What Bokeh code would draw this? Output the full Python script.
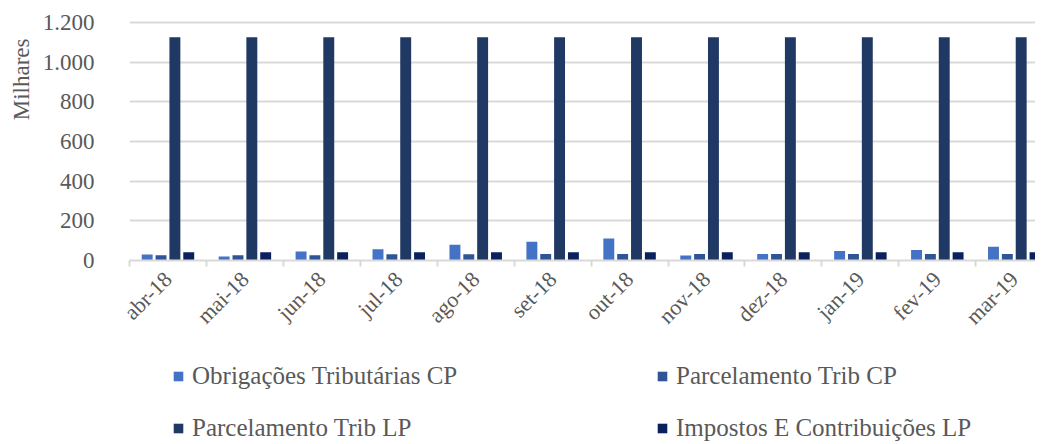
import numpy as np
from bokeh.plotting import figure
from bokeh.layouts import column
from bokeh.models import Range1d, FixedTicker, Legend, LegendItem, Title
from bokeh.embed import file_html
from bokeh.resources import INLINE

months = ["abr-18", "mai-18", "jun-18", "jul-18", "ago-18", "set-18",
          "out-18", "nov-18", "dez-18", "jan-19", "fev-19", "mar-19"]
obrigacoes_cp = [30, 20, 45, 57, 79, 95, 111, 25, 33, 48, 53, 69]
parcelamento_cp = [27, 27, 27, 32, 32, 33, 33, 33, 33, 33, 33, 33]
parcelamento_lp = [1125] * 12
impostos_lp = [42] * 12
series_names = ["Obrigações Tributárias CP", "Parcelamento Trib CP",
                "Parcelamento Trib LP", "Impostos E Contribuições LP"]
colors = ["#4472C4", "#2F5597", "#203864", "#0A215E"]
y_ticks = [0, 200, 400, 600, 800, 1000, 1200]
y_tick_labels = ["0", "200", "400", "600", "800", "1.000", "1.200"]

FONT = "Liberation Serif"
GRAY = "#595959"
W = 1035
H1, H2 = 340, 102
LEFT, TOP = 120, 20
BOTTOM = H1 - 261
cat_px = 77.7
x_end = (W - 120) / cat_px

p = figure(width=W, height=H1, output_backend="svg", toolbar_location=None,
           x_range=Range1d(0, x_end), y_range=Range1d(0, 1210),
           min_border_left=LEFT, min_border_top=TOP, min_border_bottom=BOTTOM,
           min_border_right=0)
p.outline_line_color = None

centers = np.arange(len(months)) + 0.5
offsets = [-0.27, -0.09, 0.09, 0.27]
bw = 0.142
all_series = [obrigacoes_cp, parcelamento_cp, parcelamento_lp, impostos_lp]
for vals, off, col in zip(all_series, offsets, colors):
    p.vbar(x=centers + off, top=vals, bottom=0, width=bw,
           fill_color=col, line_color=None)

# axes
p.xaxis.ticker = FixedTicker(ticks=list(centers), minor_ticks=list(range(len(months) + 1)))
p.xaxis.major_label_overrides = {float(c): m for c, m in zip(centers, months)}
p.xaxis.major_label_orientation = np.pi / 4
p.xaxis.major_tick_line_color = None
p.xaxis.minor_tick_line_color = "#D9D9D9"
p.xaxis.minor_tick_line_width = 2
p.xaxis.minor_tick_out = 6
p.xaxis.minor_tick_in = 0
p.xaxis.axis_line_color = "#D9D9D9"
p.xaxis.axis_line_width = 2
p.xaxis.major_label_text_font = FONT
p.xaxis.major_label_text_font_size = "22px"
p.xaxis.major_label_text_color = GRAY
p.xaxis.major_label_standoff = 9

p.yaxis.ticker = FixedTicker(ticks=y_ticks)
p.yaxis.major_label_overrides = {t: l for t, l in zip(y_ticks, y_tick_labels)}
p.yaxis.axis_line_color = None
p.yaxis.major_tick_line_color = None
p.yaxis.minor_tick_line_color = None
p.yaxis.major_label_standoff = 29
p.yaxis.major_label_text_font = FONT
p.yaxis.major_label_text_font_size = "23px"
p.yaxis.major_label_text_color = GRAY

ylabel = Title(text="Milhares", align="right", offset=18,
               text_font=FONT, text_font_size="23px",
               text_font_style="normal", text_color=GRAY, standoff=12)
p.add_layout(ylabel, "left")

p.xgrid.grid_line_color = None
p.ygrid.grid_line_color = "#D9D9D9"
p.ygrid.grid_line_width = 2

# legend figure
p2 = figure(width=W, height=H2, output_backend="svg", toolbar_location=None,
            x_range=Range1d(0, 10), y_range=Range1d(0, 10),
            x_axis_location=None, y_axis_location=None,
            min_border=0)
p2.outline_line_color = None
p2.grid.grid_line_color = None
leg_renderers = [p2.vbar(x=[-100], top=[0], bottom=[0], width=1, fill_color=col, line_color=None)
                 for col in colors]
legend = Legend(items=[LegendItem(label=n, renderers=[r]) for n, r in zip(series_names, leg_renderers)],
                location=(43, 0), orientation="horizontal", ncols=2,
                glyph_width=12, glyph_height=12, label_standoff=8,
                label_width=440, label_height=24, spacing=24,
                padding=0, margin=0, border_line_color=None,
                background_fill_alpha=0,
                label_text_font=FONT, label_text_font_size="25px",
                label_text_color=GRAY)
p2.add_layout(legend, "center")

open("out.html", "w").write(file_html(column(p, p2, spacing=0), INLINE))
